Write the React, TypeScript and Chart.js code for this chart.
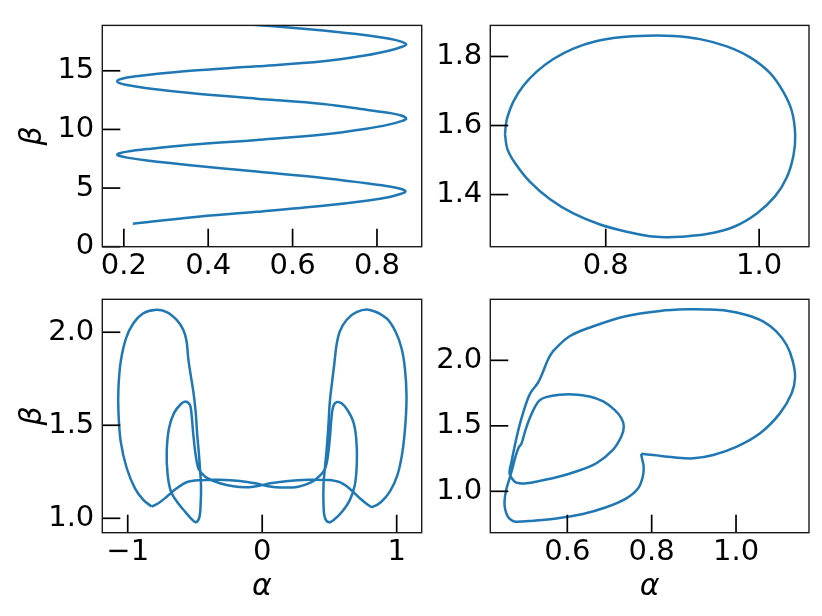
import React, { useEffect, useRef } from "react";
import { Chart, registerables } from "chart.js";
Chart.register(...registerables);

const FONT = "'DejaVu Sans', sans-serif";
const BLUE = "#1f77b4";
const PAGE_W = 822;
const PAGE_H = 616;

// ---------- Panel 1 (top-left) ----------
const p1Alpha = [
  0.2213, 0.3575, 0.515, 0.6724, 0.7748, 0.8299, 0.8575, 0.8677,
  0.8575, 0.8299, 0.7748, 0.6724, 0.515, 0.3575, 0.2551, 0.2079, 0.1882, 0.1843,
  0.1882, 0.2079, 0.2551, 0.3575, 0.515, 0.6724, 0.7748, 0.8299, 0.8575, 0.8693,
  0.8575, 0.8299, 0.7748, 0.6724, 0.515, 0.3575, 0.2551, 0.2079, 0.1882, 0.1843,
  0.1882, 0.2079, 0.2551, 0.3575, 0.515, 0.6724, 0.7748, 0.8299, 0.8575, 0.8693,
  0.8575, 0.8299, 0.7748, 0.6724, 0.5622, 0.4362,
];
const p1Beta = [
  1.95, 2.5, 2.973, 3.486, 3.919, 4.243, 4.514, 4.703,
  4.919, 5.135, 5.405, 5.865, 6.405, 6.946, 7.351, 7.595, 7.757, 7.838,
  7.946, 8.108, 8.324, 8.703, 9.108, 9.568, 10.054, 10.432, 10.703, 10.919,
  11.189, 11.405, 11.676, 12.162, 12.622, 13.108, 13.514, 13.784, 13.973, 14.108,
  14.243, 14.432, 14.649, 15.0, 15.378, 15.811, 16.324, 16.73, 17.027, 17.243,
  17.486, 17.73, 18.027, 18.432, 18.784, 19.108,
];
const p1XTicks = [0.2, 0.4, 0.6, 0.8];
const p1XLabels = ["0.2", "0.4", "0.6", "0.8"];
const p1YTicks = [0, 5, 10, 15];
const p1YLabels = ["0", "5", "10", "15"];

// ---------- Panel 2 (top-right) ----------
const p2Alpha = [
  0.6687, 0.6697, 0.6717, 0.6796, 0.6926, 0.71, 0.7317, 0.7578, 0.7883, 0.8187, 0.8535,
  0.8883, 0.923, 0.9578, 0.9883, 1.0143, 1.0317, 1.0426, 1.047, 1.0448, 1.0361,
  1.0209, 0.997, 0.9665, 0.9317, 0.897, 0.877, 0.8574, 0.8274, 0.7926, 0.7578, 0.7274,
  0.7013, 0.6817, 0.6717, 0.6687,
];
const p2Beta = [
  1.5735, 1.6, 1.6237, 1.6694, 1.7151, 1.756, 1.7927, 1.8228, 1.8447, 1.8557, 1.8603,
  1.8594, 1.8502, 1.8292, 1.7973, 1.7516, 1.6968, 1.642, 1.5735, 1.5142, 1.4502,
  1.3954, 1.3452, 1.306, 1.2855, 1.2778, 1.2767, 1.2794, 1.2922, 1.3132, 1.3452, 1.3863,
  1.4365, 1.4913, 1.5324, 1.5735,
];
const p2XTicks = [0.8, 1.0];
const p2XLabels = ["0.8", "1.0"];
const p2YTicks = [1.4, 1.6, 1.8];
const p2YLabels = ["1.4", "1.6", "1.8"];

// ---------- Panel 3 (bottom-left) ----------
const p3Alpha = [
  -0.822, -0.884, -0.946, -1.007, -1.052, -1.069, -1.069, -1.052, -1.012, -0.958,
  -0.884, -0.797, -0.71, -0.636, -0.587, -0.562, -0.55, -0.532, -0.512, -0.495,
  -0.483, -0.47, -0.463,
  -0.455, -0.458, -0.468, -0.493, -0.525, -0.574, -0.631, -0.678, -0.703, -0.71,
  -0.693, -0.656, -0.606, -0.567, -0.537, -0.525, -0.512, -0.495, -0.475, -0.45,
  -0.401, -0.314, -0.215, -0.116, -0.03,
  0.06, 0.193, 0.342, 0.491, 0.577, 0.652, 0.726, 0.788, 0.818,
  0.882, 0.949, 1.006, 1.043, 1.066, 1.073, 1.061, 1.036, 0.991, 0.924,
  0.8, 0.701, 0.627, 0.577, 0.553, 0.535, 0.52, 0.503, 0.491, 0.478, 0.466,
  0.456, 0.456, 0.466, 0.496, 0.54, 0.595, 0.652, 0.689, 0.704, 0.699,
  0.677, 0.634, 0.59, 0.553, 0.528, 0.515, 0.503, 0.486, 0.466,
  0.429, 0.367, 0.268, 0.144, 0.045,
  -0.042, -0.166, -0.314, -0.463, -0.562, -0.636, -0.71, -0.772, -0.822,
];
const p3Beta = [
  1.063, 1.099, 1.161, 1.269, 1.412, 1.573, 1.699, 1.842, 1.968, 2.048,
  2.102, 2.12, 2.108, 2.066, 2.013, 1.95, 1.86, 1.771, 1.681, 1.573,
  1.448, 1.341, 1.269,
  1.179, 1.072, 1.004, 0.979, 0.996, 1.036, 1.086, 1.143, 1.233, 1.358,
  1.484, 1.565, 1.613, 1.627, 1.609, 1.556, 1.448, 1.341, 1.269, 1.242,
  1.213, 1.188, 1.172, 1.167, 1.174,
  1.188, 1.201, 1.207, 1.206, 1.194, 1.158, 1.108, 1.072, 1.061,
  1.086, 1.143, 1.233, 1.358, 1.52, 1.663, 1.806, 1.914, 2.004, 2.075,
  2.12, 2.108, 2.066, 2.004, 1.932, 1.824, 1.735, 1.627, 1.484, 1.358, 1.269,
  1.179, 1.072, 1.004, 0.979, 0.996, 1.036, 1.099, 1.179, 1.305, 1.43,
  1.52, 1.582, 1.618, 1.624, 1.6, 1.538, 1.43, 1.323, 1.265,
  1.229, 1.194, 1.17, 1.165, 1.172,
  1.187, 1.201, 1.207, 1.205, 1.194, 1.161, 1.116, 1.081, 1.063,
];
const p3XTicks = [-1, 0, 1];
const p3XLabels = ["\u22121", "0", "1"];
const p3YTicks = [1.0, 1.5, 2.0];
const p3YLabels = ["1.0", "1.5", "2.0"];

// ---------- Panel 4 (bottom-right) ----------
const p4Alpha = [
  0.775, 0.804, 0.851, 0.899, 0.946, 1.002, 1.057, 1.104, 1.132, 1.14,
  1.134, 1.12, 1.096, 1.065, 1.025, 0.978, 0.93, 0.891, 0.82, 0.736, 0.66,
  0.6055, 0.566, 0.554, 0.538, 0.53, 0.515, 0.507, 0.495, 0.485, 0.475,
  0.467, 0.463,
  0.475, 0.487, 0.503, 0.534, 0.574, 0.621, 0.669, 0.708, 0.728, 0.734,
  0.728, 0.712, 0.685, 0.653, 0.613, 0.582, 0.55, 0.534, 0.523, 0.511,
  0.501, 0.491, 0.485, 0.477, 0.47, 0.462, 0.455, 0.451, 0.453, 0.459,
  0.467, 0.477,
  0.519, 0.574, 0.637, 0.692, 0.74, 0.768, 0.779, 0.781, 0.777, 0.775,
];
const p4Beta = [
  1.286, 1.277, 1.26, 1.252, 1.277, 1.341, 1.443, 1.595, 1.748, 1.875,
  2.0, 2.117, 2.219, 2.295, 2.346, 2.379, 2.389, 2.39, 2.377, 2.335, 2.258,
  2.184, 2.069, 2.005, 1.878, 1.827, 1.763, 1.712, 1.597, 1.482, 1.342,
  1.214, 1.138,
  1.074, 1.061, 1.061, 1.079, 1.107, 1.151, 1.214, 1.316, 1.418, 1.495,
  1.559, 1.622, 1.686, 1.724, 1.74, 1.737, 1.719, 1.694, 1.643, 1.559,
  1.469, 1.362, 1.337, 1.265, 1.176, 1.087, 1.01, 0.921, 0.857, 0.806,
  0.781, 0.768,
  0.776, 0.793, 0.827, 0.878, 0.946, 1.023, 1.112, 1.189, 1.253, 1.286,
];
const p4XTicks = [0.6, 0.8, 1.0];
const p4XLabels = ["0.6", "0.8", "1.0"];
const p4YTicks = [1.0, 1.5, 2.0];
const p4YLabels = ["1.0", "1.5", "2.0"];

type Panel = {
  alpha: number[];
  beta: number[];
  xTicks: number[];
  xLabels: string[];
  yTicks: number[];
  yLabels: string[];
  xRange: [number, number];
  yRange: [number, number];
  area: [number, number, number, number]; // left, top, right, bottom (px)
  xTitle?: string;
  yTitle?: string;
};

const panels: Panel[] = [
  {
    alpha: p1Alpha, beta: p1Beta, xTicks: p1XTicks, xLabels: p1XLabels,
    yTicks: p1YTicks, yLabels: p1YLabels, xRange: [0.149, 0.906], yRange: [0, 18.87],
    area: [102.3, 12.7, 421.7, 246.7], yTitle: "\u03b2",
  },
  {
    alpha: p2Alpha, beta: p2Beta, xTicks: p2XTicks, xLabels: p2XLabels,
    yTicks: p2YTicks, yLabels: p2YLabels, xRange: [0.6495, 1.065], yRange: [1.249, 1.89],
    area: [490.3, 12.7, 809, 246.7],
  },
  {
    alpha: p3Alpha, beta: p3Beta, xTicks: p3XTicks, xLabels: p3XLabels,
    yTicks: p3YTicks, yLabels: p3YLabels, xRange: [-1.189, 1.186], yRange: [0.9226, 2.177],
    area: [102.3, 299.3, 421.7, 532.7], xTitle: "\u03b1", yTitle: "\u03b2",
  },
  {
    alpha: p4Alpha, beta: p4Beta, xTicks: p4XTicks, xLabels: p4XLabels,
    yTicks: p4YTicks, yLabels: p4YLabels, xRange: [0.4174, 1.173], yRange: [0.684, 2.466],
    area: [490.3, 299.3, 809, 532.7], xTitle: "\u03b1",
  },
];

const framePlugin = {
  id: "frame",
  afterDatasetsDraw(chart: any, _args: any, opts: any) {
    const { ctx, chartArea, scales } = chart;
    const { left, right, top, bottom } = chartArea;
    ctx.save();
    ctx.strokeStyle = "#000";
    ctx.lineWidth = 1.7;
    ctx.lineCap = "butt";
    for (const v of opts.xTicks) {
      const px = scales.x.getPixelForValue(v);
      ctx.beginPath();
      ctx.moveTo(px, bottom);
      ctx.lineTo(px, bottom - 18);
      ctx.stroke();
    }
    for (const v of opts.yTicks) {
      const py = scales.y.getPixelForValue(v);
      ctx.beginPath();
      ctx.moveTo(left, py);
      ctx.lineTo(left + 18, py);
      ctx.stroke();
    }
    ctx.strokeStyle = "#1a1a1a";
    ctx.lineWidth = 1.4;
    ctx.strokeRect(left, top, right - left, bottom - top);
    ctx.restore();
  },
};

function PanelChart({ p }: { p: Panel }) {
  const ref = useRef<HTMLCanvasElement | null>(null);
  useEffect(() => {
    const [L, T, R, B] = p.area;
    const yW = p.yTitle ? L : 80;
    const xH = p.xTitle ? PAGE_H - B : 40;
    const tickFont = { family: FONT, size: 29 };
    const titleFont = { family: FONT, size: 30, style: "italic" as const };
    const chart = new Chart(ref.current!, {
      type: "scatter",
      data: {
        datasets: [
          {
            data: p.alpha.map((a, i) => ({ x: a, y: p.beta[i] })),
            showLine: true,
            borderColor: BLUE,
            backgroundColor: BLUE,
            borderWidth: 2.5,
            pointRadius: 0,
            tension: 0.35,
            fill: false,
          },
        ],
      },
      options: {
        responsive: false,
        animation: false,
        devicePixelRatio: 1,
        events: [],
        layout: {
          autoPadding: false,
          padding: { left: L - yW, top: T, right: PAGE_W - R, bottom: PAGE_H - B - xH },
        },
        elements: { line: { capBezierPoints: false, borderJoinStyle: "round" } },
        plugins: {
          legend: { display: false },
          tooltip: { enabled: false },
          frame: { xTicks: p.xTicks, yTicks: p.yTicks },
        } as any,
        scales: {
          x: {
            type: "linear",
            min: p.xRange[0],
            max: p.xRange[1],
            afterBuildTicks: (s: any) => {
              s.ticks = p.xTicks.map((v) => ({ value: v }));
            },
            afterFit: (s: any) => {
              s.height = xH;
            },
            grid: { display: false, drawTicks: false },
            border: { display: false },
            ticks: {
              font: tickFont,
              color: "#000",
              padding: 2,
              maxRotation: 0,
              autoSkip: false,
              callback: (v: any) => p.xLabels[p.xTicks.indexOf(Number(v))],
            },
            title: {
              display: !!p.xTitle,
              text: p.xTitle || "",
              color: "#000",
              font: titleFont,
              padding: { top: 0, bottom: 11 },
            },
          },
          y: {
            type: "linear",
            min: p.yRange[0],
            max: p.yRange[1],
            afterBuildTicks: (s: any) => {
              s.ticks = p.yTicks.map((v) => ({ value: v }));
            },
            afterFit: (s: any) => {
              s.width = yW;
            },
            grid: { display: false, drawTicks: false },
            border: { display: false },
            ticks: {
              font: tickFont,
              color: "#000",
              padding: 8,
              autoSkip: false,
              callback: (v: any) => p.yLabels[p.yTicks.indexOf(Number(v))],
            },
            title: {
              display: !!p.yTitle,
              text: p.yTitle || "",
              color: "#000",
              font: titleFont,
              padding: { top: 15, bottom: 0 },
            },
          },
        },
      },
      plugins: [framePlugin as any],
    } as any);
    return () => chart.destroy();
  }, [p]);
  return (
    <canvas
      ref={ref}
      width={PAGE_W}
      height={PAGE_H}
      style={{ position: "absolute", left: 0, top: 0, width: PAGE_W, height: PAGE_H }}
    />
  );
}

export default function App() {
  return (
    <div
      style={{
        position: "absolute",
        left: 0,
        top: 0,
        width: PAGE_W,
        height: PAGE_H,
        background: "#fff",
      }}
    >
      {panels.map((p, i) => (
        <PanelChart key={i} p={p} />
      ))}
    </div>
  );
}
